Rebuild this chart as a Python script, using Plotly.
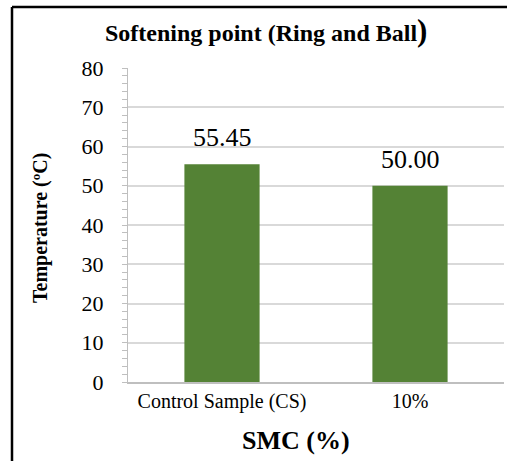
import plotly.graph_objects as go

categories = ["Control Sample (CS)", "10%"]
softening_point = [55.45, 50.00]
y_ticks = [0, 10, 20, 30, 40, 50, 60, 70, 80]

SERIF = "Liberation Serif"
BAR_GREEN = "#548235"
GRID = "#d9d9d9"
AXIS = "#bfbfbf"

fig = go.Figure()
fig.add_trace(go.Bar(
    x=categories,
    y=softening_point,
    width=0.4,
    marker=dict(color=BAR_GREEN, line=dict(width=0)),
    hoverinfo="skip",
))

# value labels above each bar
for cat, val in zip(categories, softening_point):
    fig.add_annotation(
        x=cat, y=val, xref="x", yref="y",
        text=f"{val:.2f}", showarrow=False,
        yanchor="bottom", yshift=10,
        font=dict(family=SERIF, size=26, color="black"),
    )

# chart title
fig.add_annotation(
    x=(266 - 128) / 376, y=(382 - 30) / 314, xref="paper", yref="paper",
    text="<b>Softening point (Ring and Ball<span style='font-size:31px'>)</span></b>",
    showarrow=False, xanchor="center", yanchor="middle",
    font=dict(family=SERIF, size=24, color="black"),
)

# axis titles
fig.add_annotation(
    x=(40 - 128) / 376, y=(382 - 228) / 314, xref="paper", yref="paper",
    text="<b>Temperature (ºC)</b>", textangle=-90, showarrow=False,
    xanchor="center", yanchor="middle",
    font=dict(family=SERIF, size=20, color="black"),
)
fig.add_annotation(
    x=(296 - 128) / 376, y=(382 - 440) / 314, xref="paper", yref="paper",
    text="<b>SMC (%)</b>", showarrow=False,
    xanchor="center", yanchor="middle",
    font=dict(family=SERIF, size=26, color="black"),
)

# outer frame (left and top edges)
fig.add_shape(type="line", xref="paper", yref="paper",
              x0=(12 - 128) / 376, x1=(520 - 128) / 376,
              y0=(382 - 7) / 314, y1=(382 - 7) / 314,
              line=dict(color="black", width=2.5))
fig.add_shape(type="line", xref="paper", yref="paper",
              x0=(12 - 128) / 376, x1=(12 - 128) / 376,
              y0=(382 - 7) / 314, y1=(382 - 480) / 314,
              line=dict(color="black", width=2.5))

fig.update_layout(
    width=507, height=461,
    margin=dict(l=128, r=3, t=68, b=79),
    paper_bgcolor="white", plot_bgcolor="white",
    showlegend=False,
)

fig.update_xaxes(
    type="category",
    showline=True, linecolor=AXIS, linewidth=1.5,
    showgrid=False, ticks="",
    tickfont=dict(family=SERIF, size=20, color="black"),
)
fig.update_yaxes(
    range=[0, 80], tickvals=y_ticks,
    showline=True, linecolor=AXIS, linewidth=1,
    showgrid=True, gridcolor=GRID, gridwidth=1.5,
    zeroline=False,
    ticks="outside", ticklen=5, tickcolor=AXIS,
    ticklabelstandoff=14,
    minor=dict(dtick=2, ticks="outside", ticklen=5, tickcolor=AXIS, showgrid=False),
    tickfont=dict(family=SERIF, size=22, color="black"),
)

fig.write_html("out.html")
